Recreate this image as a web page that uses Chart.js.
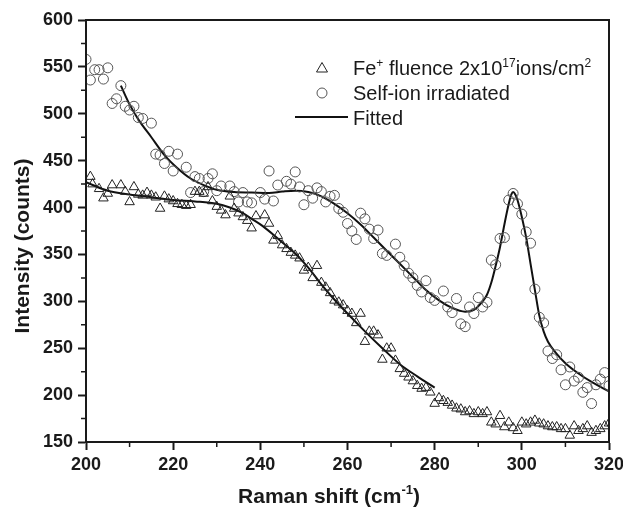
<!DOCTYPE html>
<html>
<head>
<meta charset="utf-8">
<script src="https://cdn.jsdelivr.net/npm/chart.js@4.4.1/dist/chart.umd.min.js"></script>
<style>
  html, body { margin: 0; padding: 0; background: #fff; }
  #wrap { width: 623px; height: 507px; }
</style>
</head>
<body>
<div id="wrap"><canvas id="ramanChart" width="623" height="507"></canvas></div>
<script>
const FONT = "'Liberation Sans', Arial, sans-serif";

// Fe+ fluence 2x10^17 ions/cm^2 (triangles)
const feShift = [201, 201.5, 203, 204, 205, 206, 208, 209, 210, 211, 212, 213, 214, 215, 216, 217, 218, 219, 220,
  221, 222, 223, 224, 225, 226, 227, 228, 229, 230, 231, 232, 233, 234, 235, 236, 237, 238, 239, 241, 242,
  243, 244, 245, 246, 247, 248, 249, 250, 251, 252, 253, 254, 255, 256, 257, 258, 259, 260, 261, 262,
  263, 264, 265, 266, 267, 268, 269, 270, 271, 272, 273, 274, 275, 276, 277, 278, 279, 280, 281, 282,
  283, 284, 285, 286, 287, 288, 289, 290, 291, 292, 293, 294, 295, 296, 297, 298, 299, 300, 301, 302,
  303, 304, 305, 306, 307, 308, 309, 310, 311, 312, 313, 314, 315, 316, 317, 318, 319, 320];
const feIntensity = [433, 425, 420, 410, 415, 424, 424, 417, 406, 422, 414, 413, 416, 413, 411, 399, 412, 409, 407,
  404, 403, 402, 403, 417, 417, 415, 422, 407, 401, 397, 392, 412, 399, 394, 390, 386, 378, 391, 392, 383,
  365, 370, 360, 356, 352, 349, 346, 333, 336, 325, 338, 320, 315, 309, 301, 299, 296, 290, 287, 277,
  287, 257, 268, 268, 264, 238, 250, 250, 237, 228, 223, 219, 215, 210, 207, 208, 203, 191, 197, 194,
  192, 189, 186, 185, 182, 183, 180, 182, 180, 182, 171, 169, 178, 166, 171, 165, 162, 171, 169, 171,
  173, 170, 169, 167, 166, 166, 164, 164, 157, 167, 162, 164, 167, 160, 162, 164, 167, 170];

// Self-ion irradiated (circles)
const selfShift = [200, 201, 202, 203, 204, 205, 206, 207, 208, 209, 210, 211, 212, 213, 215, 216, 217, 218, 219,
  220, 221, 223, 224, 225, 226, 227, 228, 229, 230, 231, 233, 234, 235, 236, 237, 238, 240, 241, 242, 243,
  244, 246, 247, 248, 249, 250, 251, 252, 253, 254, 255, 256, 257, 258, 259, 260, 261, 262, 263, 264,
  265, 266, 267, 268, 269, 271, 272, 273, 274, 275, 276, 277, 278, 279, 280, 282, 283, 284, 285, 286,
  287, 288, 289, 290, 291, 292, 293, 294, 295, 296, 297, 298, 299, 300, 301, 302, 303, 304, 305, 306,
  307, 308, 309, 310, 311, 312, 313, 314, 315, 316, 317, 318, 319, 320];
const selfIntensity = [558, 536, 547, 547, 537, 549, 511, 516, 530, 508, 504, 508, 496, 495, 490, 457, 456, 447, 460,
  439, 457, 443, 416, 433, 431, 417, 431, 436, 418, 423, 423, 417, 406, 416, 406, 405, 416, 409, 439, 407,
  424, 428, 425, 438, 422, 403, 418, 410, 421, 417, 406, 412, 413, 399, 395, 383, 375, 366, 394, 388,
  377, 367, 376, 351, 349, 361, 347, 338, 330, 325, 317, 310, 322, 304, 301, 311, 294, 288, 303, 276,
  273, 294, 287, 304, 294, 299, 344, 339, 367, 368, 408, 415, 404, 393, 374, 362, 313, 283, 277, 247,
  239, 243, 227, 211, 230, 215, 219, 203, 208, 191, 211, 217, 224, 210];

// fitted curves
const fitFeShift = [200, 205, 210, 215, 220, 225, 230, 233, 236, 238, 240, 243, 245, 248, 251, 254, 256, 260, 264, 268, 272, 276, 280];
const fitFeIntensity = [427, 418, 414, 411, 408, 406.5, 404, 400, 394, 388, 382, 371, 363, 351, 336, 318, 307, 287, 268, 250, 233, 220, 208];

const fitSelfShift = [208, 210, 212, 215, 218, 221, 224, 227, 230, 234, 238, 242, 245, 248, 251, 254, 257, 260, 263, 266,
  269, 272, 275, 278, 281, 284, 287, 289, 291, 292, 293, 294, 295, 296, 297, 297.6, 298, 298.5, 299, 300,
  301, 302, 303, 304, 305, 306, 308, 310, 313, 316, 320];
const fitSelfIntensity = [530, 510, 494, 475, 456, 442, 431, 424, 419, 416.5, 416, 415.5, 417, 418, 416.5, 412, 404, 394, 382, 368,
  354, 340, 326, 312, 301, 293, 289, 291, 300, 307, 320, 338, 358, 382, 404, 414, 416.5, 414, 408, 390,
  368, 340, 312, 285, 268, 257, 244, 234, 223, 214, 204];

const minorX = [210, 230, 250, 270, 290, 310];
const minorY = [175, 225, 275, 325, 375, 425, 475, 525, 575];

function toPoints(xs, ys) {
  return xs.map((v, i) => ({ x: v, y: ys[i] }));
}

// text with superscripts: parts = [[text, isSup], ...]
function drawRich(ctx, parts, x, y, size, weight) {
  let cx = x;
  parts.forEach(([t, sup]) => {
    const s = sup ? Math.round(size * 0.6) : size;
    ctx.font = `${weight} ${s}px ${FONT}`;
    ctx.fillText(t, cx, sup ? y - size * 0.42 : y);
    cx += ctx.measureText(t).width;
  });
  return cx - x;
}

function richWidth(ctx, parts, size, weight) {
  let w = 0;
  parts.forEach(([t, sup]) => {
    const s = sup ? Math.round(size * 0.6) : size;
    ctx.font = `${weight} ${s}px ${FONT}`;
    w += ctx.measureText(t).width;
  });
  return w;
}

const decorations = {
  id: 'decorations',
  afterDraw(chart) {
    const { ctx, chartArea: a, scales: { x, y } } = chart;
    ctx.save();
    ctx.strokeStyle = '#1a1a1a';
    ctx.lineWidth = 2;
    ctx.strokeRect(a.left, a.top, a.right - a.left, a.bottom - a.top);

    // minor ticks
    ctx.lineWidth = 1.5;
    ctx.beginPath();
    minorX.forEach(v => {
      const px = x.getPixelForValue(v);
      ctx.moveTo(px, a.bottom);
      ctx.lineTo(px, a.bottom + 5);
    });
    minorY.forEach(v => {
      const py = y.getPixelForValue(v);
      ctx.moveTo(a.left, py);
      ctx.lineTo(a.left - 5, py);
    });
    ctx.stroke();

    ctx.fillStyle = '#1a1a1a';
    ctx.textBaseline = 'alphabetic';
    ctx.textAlign = 'left';

    // x title
    const xParts = [['Raman shift (cm', false], ['-1', true], [')', false]];
    const xw = richWidth(ctx, xParts, 21, 'bold');
    drawRich(ctx, xParts, 329 - xw / 2, 503, 21, 'bold');

    // y title
    ctx.save();
    ctx.translate(29, 246);
    ctx.rotate(-Math.PI / 2);
    ctx.textAlign = 'center';
    ctx.font = `bold 21px ${FONT}`;
    ctx.fillText('Intensity (counts)', 0, 0);
    ctx.restore();

    // legend
    const lx = 322, tx = 353;
    ctx.lineWidth = 1;
    ctx.strokeStyle = '#222';
    ctx.beginPath();
    ctx.moveTo(lx, 62.5);
    ctx.lineTo(lx + 5.5, 72);
    ctx.lineTo(lx - 5.5, 72);
    ctx.closePath();
    ctx.stroke();
    drawRich(ctx, [['Fe', false], ['+', true], [' fluence 2x10', false], ['17', true], ['ions/cm', false], ['2', true]], tx, 75, 20, 'normal');

    ctx.strokeStyle = '#555';
    ctx.beginPath();
    ctx.arc(lx, 93, 5, 0, Math.PI * 2);
    ctx.stroke();
    ctx.font = `normal 20px ${FONT}`;
    ctx.fillText('Self-ion irradiated', tx, 100);

    ctx.strokeStyle = '#111';
    ctx.lineWidth = 2;
    ctx.beginPath();
    ctx.moveTo(295, 117);
    ctx.lineTo(348, 117);
    ctx.stroke();
    ctx.fillText('Fitted', tx, 124.5);
    ctx.restore();
  }
};

const ctx = document.getElementById('ramanChart').getContext('2d');
new Chart(ctx, {
  type: 'scatter',
  data: {
    datasets: [
      {
        label: 'Fe+ fluence 2x10^17ions/cm^2',
        data: toPoints(feShift, feIntensity),
        pointStyle: 'triangle',
        pointRadius: 5.5,
        borderColor: '#222',
        backgroundColor: 'rgba(0,0,0,0)',
        borderWidth: 1
      },
      {
        label: 'Self-ion irradiated',
        data: toPoints(selfShift, selfIntensity),
        pointStyle: 'circle',
        pointRadius: 5,
        borderColor: '#555',
        backgroundColor: 'rgba(0,0,0,0)',
        borderWidth: 1
      },
      {
        label: 'Fitted',
        data: toPoints(fitFeShift, fitFeIntensity),
        showLine: true,
        pointRadius: 0,
        borderColor: '#111',
        borderWidth: 2,
        cubicInterpolationMode: 'monotone'
      },
      {
        label: 'Fitted (self-ion)',
        data: toPoints(fitSelfShift, fitSelfIntensity),
        showLine: true,
        pointRadius: 0,
        borderColor: '#111',
        borderWidth: 2,
        cubicInterpolationMode: 'monotone'
      }
    ]
  },
  options: {
    responsive: false,
    animation: false,
    layout: { padding: { left: 0, top: 20, right: 14, bottom: 0 } },
    plugins: {
      legend: { display: false },
      tooltip: { enabled: false }
    },
    scales: {
      x: {
        min: 200,
        max: 320,
        afterFit: scale => {
          scale.height = 65;
          scale.paddingLeft = 0;
          scale.paddingRight = 0;
        },
        ticks: { stepSize: 20, padding: 4, color: '#1a1a1a', font: { family: FONT, size: 18, weight: 'bold' } },
        grid: { drawOnChartArea: false, tickLength: 8, tickWidth: 2, tickColor: '#1a1a1a' },
        border: { color: '#1a1a1a', width: 2 }
      },
      y: {
        min: 150,
        max: 600,
        afterFit: scale => {
          scale.width = 86;
          scale.paddingTop = 0;
          scale.paddingBottom = 0;
        },
        ticks: { stepSize: 50, padding: 5, color: '#1a1a1a', font: { family: FONT, size: 18, weight: 'bold' } },
        grid: { drawOnChartArea: false, tickLength: 8, tickWidth: 2, tickColor: '#1a1a1a' },
        border: { color: '#1a1a1a', width: 2 }
      }
    }
  },
  plugins: [decorations]
});
</script>
</body>
</html>
